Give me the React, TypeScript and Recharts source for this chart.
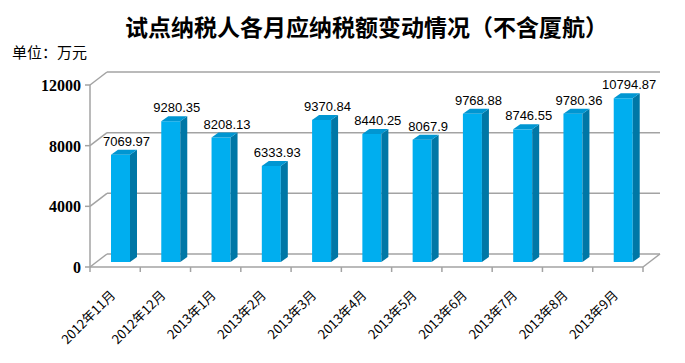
import React from 'react';
import { BarChart, Bar, XAxis, YAxis, CartesianGrid, LabelList } from 'recharts';

const months = ['2012年11月', '2012年12月', '2013年1月', '2013年2月', '2013年3月', '2013年4月', '2013年5月', '2013年6月', '2013年7月', '2013年8月', '2013年9月'];
const taxValues = [7069.97, 9280.35, 8208.13, 6333.93, 9370.84, 8440.25, 8067.9, 9768.88, 8746.55, 9780.36, 10794.87];
const yTicks = [0, 4000, 8000, 12000];

const data = months.map((m, i) => ({ month: m, value: taxValues[i] }));

const W = 685;
const H = 363;
const margin = { top: 85, right: 42, left: 0, bottom: 0 };
const yAxisWidth = 90;
const xAxisHeight = 96;
const plotWidth = W - margin.left - margin.right - yAxisWidth;
const band = plotWidth / months.length;

// 3D offsets
const wallDx = 17;
const wallDy = -13;
const barShiftX = 5;
const barShiftY = -5;
const depthX = 7;
const depthY = -5;

const gridColor = '#a3a3a3';

function Bar3D(props: any) {
  const { x, y, width, height } = props;
  if (height == null || height <= 0) return null;
  const fx = x + barShiftX;
  const fy = y + barShiftY;
  const top = `${fx},${fy} ${fx + depthX},${fy + depthY} ${fx + width + depthX},${fy + depthY} ${fx + width},${fy}`;
  const side = `${fx + width},${fy} ${fx + width + depthX},${fy + depthY} ${fx + width + depthX},${fy + height + depthY} ${fx + width},${fy + height}`;
  return (
    <g>
      <rect x={fx} y={fy} width={width} height={height} fill="#00aeef" />
      <polygon points={side} fill="#0077a6" />
      <polygon points={top} fill="#0096d2" />
    </g>
  );
}

function BarLabel(props: any) {
  const { x, y, width, value } = props;
  return (
    <text
      x={x + barShiftX + width / 2 + 6}
      y={y + barShiftY - 9}
      textAnchor="middle"
      fontSize={13}
      fontFamily="'Liberation Sans', Arial, sans-serif"
      fill="#000"
    >
      {value}
    </text>
  );
}

function GridLine(props: any) {
  const { x1, x2, y1, index } = props;
  return (
    <g key={`g-${index}`}>
      <line x1={x1} y1={y1} x2={x1 + wallDx} y2={y1 + wallDy} stroke={gridColor} strokeWidth={1.5} />
      <line x1={x1 + wallDx} y1={y1 + wallDy} x2={x2 + wallDx} y2={y1 + wallDy} stroke={gridColor} strokeWidth={1.5} />
      {index === 0 && (
        <line x1={x2} y1={y1} x2={x2 + wallDx} y2={y1 + wallDy} stroke={gridColor} strokeWidth={1.5} />
      )}
    </g>
  );
}

function MonthTick(props: any) {
  const { x, y, payload, index } = props;
  const left = x - band / 2;
  const right = x + band / 2;
  const ax = x + 1;
  const ay = y + 29;
  return (
    <g>
      <line x1={left} y1={y} x2={left} y2={y + 5} stroke={gridColor} strokeWidth={1.5} />
      {index === months.length - 1 && (
        <line x1={right} y1={y} x2={right} y2={y + 5} stroke={gridColor} strokeWidth={1.5} />
      )}
      <text
        x={ax}
        y={ay}
        textAnchor="end"
        transform={`rotate(-45, ${ax}, ${ay})`}
        fontSize={13}
        fontFamily="'Noto Sans CJK SC', sans-serif"
        fill="#000"
      >
        {payload.value}
      </text>
    </g>
  );
}

function ValueTick(props: any) {
  const { x, y, payload } = props;
  return (
    <text
      x={x}
      y={y}
      dy={6}
      textAnchor="end"
      fontSize={16}
      fontWeight="bold"
      fontFamily="'Liberation Serif', 'Times New Roman', serif"
      fill="#000"
    >
      {payload.value}
    </text>
  );
}

export default function App() {
  return (
    <div style={{ position: 'absolute', left: 0, top: 0, width: W, height: H, background: '#fff' }}>
      <div
        style={{
          position: 'absolute',
          left: 125,
          top: 15,
          fontSize: 23,
          fontWeight: 'bold',
          lineHeight: 1,
          whiteSpace: 'nowrap',
          fontFamily: "'Noto Sans CJK SC', sans-serif",
          color: '#000',
        }}
      >
        试点纳税人各月应纳税额变动情况（不含厦航）
      </div>
      <div
        style={{
          position: 'absolute',
          left: 12,
          top: 44,
          fontSize: 15,
          lineHeight: 1,
          whiteSpace: 'nowrap',
          fontFamily: "'Noto Sans CJK SC', sans-serif",
          color: '#000',
        }}
      >
        单位：万元
      </div>
      <BarChart width={W} height={H} data={data} margin={margin}>
        <CartesianGrid vertical={false} horizontal={GridLine} stroke={gridColor} />
        <XAxis
          dataKey="month"
          height={xAxisHeight}
          interval={0}
          tickLine={false}
          tickSize={0}
          tickMargin={0}
          axisLine={{ stroke: gridColor, strokeWidth: 1.5 }}
          tick={MonthTick}
        />
        <YAxis
          width={yAxisWidth}
          domain={[0, 12000]}
          ticks={yTicks}
          interval={0}
          tickSize={5}
          tickMargin={4}
          axisLine={{ stroke: gridColor, strokeWidth: 1.5 }}
          tickLine={{ stroke: gridColor, strokeWidth: 1.5 }}
          tick={ValueTick}
        />
        <Bar dataKey="value" barSize={19} shape={Bar3D} isAnimationActive={false}>
          <LabelList dataKey="value" content={BarLabel} />
        </Bar>
      </BarChart>
    </div>
  );
}
